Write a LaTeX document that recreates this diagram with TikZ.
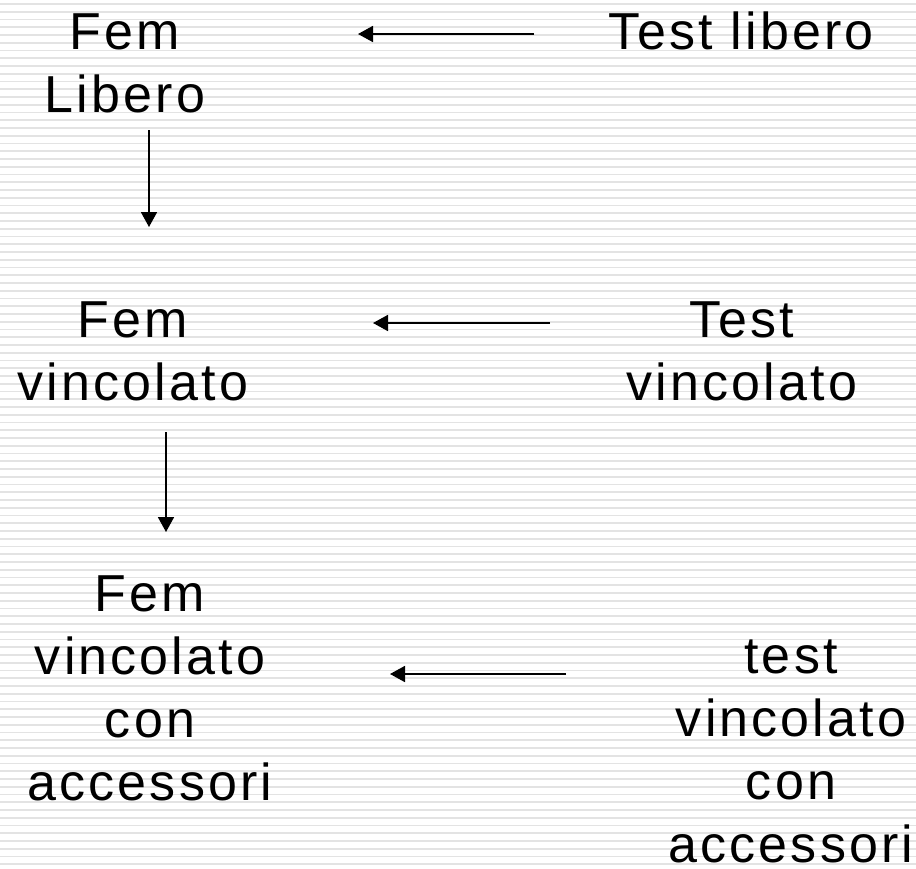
\documentclass[tikz,border=0pt]{standalone}
\usepackage{fontspec}
\setmainfont{Liberation Sans}[LetterSpace=6]
\usetikzlibrary{arrows.meta}
\begin{document}
\begin{tikzpicture}[x=1pt,y=-1pt,
  lbl/.style={font=\fontsize{52}{63}\selectfont, align=center, inner sep=0pt, anchor=base},
  arr/.style={line width=1.8pt, -{Triangle[length=15pt,width=16pt]}},
  stripe/.style={draw=black!11, line width=1.6pt}]
\fill[white] (0,0) rectangle (916,868);
\useasboundingbox (0,0) rectangle (916,868);
\foreach \i in {0,...,111} \draw[stripe] (0,{4+7.75*\i}) -- (916,{4+7.75*\i});
% text blocks
\node[lbl] (fem1) at (125,112) {Fem\\Libero};
\node[lbl] (tl)   at (741,49)  {Test libero};
\node[lbl] (fem2) at (133,400) {Fem\\vincolato};
\node[lbl] (tv)   at (742,400) {Test\\vincolato};
\node[lbl] (fem3) at (150,800) {Fem\\vincolato\\con\\accessori};
\node[lbl] (tvc)  at (791,862) {test\\vincolato\\con\\accessori};
% arrow ends
\coordinate (a1s) at (534,34);  \coordinate (a1e) at (358,34);
\coordinate (v1s) at (149,130); \coordinate (v1e) at (149,227);
\coordinate (a2s) at (550,323); \coordinate (a2e) at (373,323);
\coordinate (v2s) at (166,432); \coordinate (v2e) at (166,532);
\coordinate (a3s) at (566,674); \coordinate (a3e) at (390,674);
\draw[arr] (a1s) -- (a1e);
\draw[arr] (v1s) -- (v1e);
\draw[arr] (a2s) -- (a2e);
\draw[arr] (v2s) -- (v2e);
\draw[arr] (a3s) -- (a3e);
\end{tikzpicture}
\end{document}
